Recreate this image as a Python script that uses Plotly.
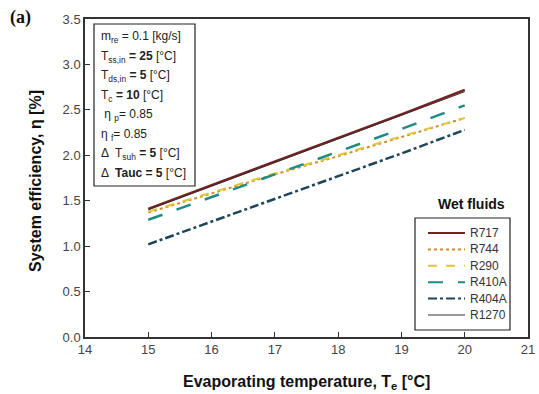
import plotly.graph_objects as go

T_evap = [15, 16, 17, 18, 19, 20]
fluids = ["R717", "R744", "R290", "R410A", "R404A", "R1270"]
R717 = [1.41, 1.67, 1.93, 2.19, 2.45, 2.72]
R744 = [1.37, 1.58, 1.79, 1.99, 2.20, 2.41]
R290 = [1.38, 1.59, 1.80, 2.00, 2.21, 2.41]
R410A = [1.29, 1.54, 1.79, 2.04, 2.29, 2.55]
R404A = [1.02, 1.27, 1.52, 1.77, 2.02, 2.28]
R1270 = [1.40, 1.66, 1.92, 2.18, 2.44, 2.70]
x_ticks = [14, 15, 16, 17, 18, 19, 20, 21]
y_ticks = [0.0, 0.5, 1.0, 1.5, 2.0, 2.5, 3.0, 3.5]

series = [R717, R744, R290, R410A, R404A, R1270]
styles = [
    dict(color="#7a1f1f", width=2.5, dash="solid"),
    dict(color="#d08a30", width=2, dash="dot"),
    dict(color="#e2c534", width=2, dash="dash"),
    dict(color="#1f8a86", width=2.5, dash="longdash"),
    dict(color="#1d4658", width=2.5, dash="dashdot"),
    dict(color="#333333", width=1, dash="solid"),
]

FONT = "Liberation Sans, Arial, sans-serif"
L, R, T, B, W, H = 85, 11, 19, 57, 539, 394
PW, PH = W - L - R, H - T - B


def px(xp):
    return (xp - L) / PW


def py(yp):
    return (H - B - yp) / PH


fig = go.Figure()
for name, ys, st in zip(fluids, series, styles):
    fig.add_trace(go.Scatter(x=T_evap, y=ys, mode="lines", name=name, line=st,
                             showlegend=False))

fig.update_layout(
    width=W, height=H,
    margin=dict(l=L, r=R, t=T, b=B, autoexpand=False),
    paper_bgcolor="white", plot_bgcolor="white",
    font=dict(family=FONT, size=13, color="#333333"),
    showlegend=False,
    xaxis=dict(
        range=[14, 21], tickvals=x_ticks, ticktext=[str(v) for v in x_ticks],
        showgrid=False, zeroline=False, showline=True, linecolor="#333333",
        linewidth=1.5, mirror=True, ticks="inside", ticklen=5, tickcolor="#333333",
        tickfont=dict(size=13, color="#444444"),
    ),
    yaxis=dict(
        range=[0, 3.5], tickvals=y_ticks, ticktext=[f"{v:.1f}" for v in y_ticks],
        showgrid=False, zeroline=False, showline=True, linecolor="#333333",
        linewidth=1.5, mirror=True, ticks="inside", ticklen=5, tickcolor="#333333",
        tickfont=dict(size=13, color="#444444"),
    ),
)

# axis titles
fig.add_annotation(xref="paper", yref="paper", x=px(306), y=py(382),
                   text="<b>Evaporating temperature, T<sub>e</sub> [°C]</b>",
                   showarrow=False, xanchor="center", yanchor="middle",
                   font=dict(size=16, color="#111111", family=FONT))
fig.add_annotation(xref="paper", yref="paper", x=px(35), y=py(181),
                   text="<b>System efficiency, η [%]</b>", textangle=-90,
                   showarrow=False, xanchor="center", yanchor="middle",
                   font=dict(size=16, color="#111111", family=FONT))

# parameter box
fig.add_shape(type="rect", xref="paper", yref="paper",
              x0=px(94), x1=px(195), y0=py(186), y1=py(24),
              line=dict(color="#222222", width=1.2), fillcolor="white")
param_lines = [
    "m<sub>re</sub> = 0.1 [kg/s]",
    "T<sub>ss,in</sub> <b>= 25</b> [°C]",
    "T<sub>ds,in</sub> <b>= 5</b> [°C]",
    "T<sub>c</sub> <b>= 10</b> [°C]",
    " η <sub>p</sub>= 0.85",
    "η <sub>f</sub>= 0.85",
    "Δ  T<sub>suh</sub> <b>= 5</b> [°C]",
    "Δ  <b>Tauc = 5</b> [°C]",
]
for i, txt in enumerate(param_lines):
    ypx = 37 + i * 19.5
    fig.add_annotation(xref="paper", yref="paper", x=px(99), y=py(ypx), text=txt,
                       showarrow=False, xanchor="left", yanchor="middle",
                       font=dict(size=12, color="#222222", family=FONT))

# custom legend
fig.add_annotation(xref="paper", yref="paper", x=px(471), y=py(204),
                   text="<b>Wet fluids</b>", showarrow=False, xanchor="center",
                   yanchor="middle", font=dict(size=14, color="#111111", family=FONT))
fig.add_shape(type="rect", xref="paper", yref="paper",
              x0=px(415), x1=px(510), y0=py(330), y1=py(218),
              line=dict(color="#222222", width=1.2), fillcolor="white")
for i, (name, st) in enumerate(zip(fluids, styles)):
    yy = 233 + i * 16.4
    fig.add_shape(type="line", xref="paper", yref="paper",
                  x0=px(428), x1=px(465), y0=py(yy), y1=py(yy),
                  line=dict(color=st["color"], width=min(st["width"], 2), dash=st["dash"]))
    fig.add_annotation(xref="paper", yref="paper", x=px(468), y=py(yy), text=name,
                       showarrow=False, xanchor="left", yanchor="middle",
                       font=dict(size=12, color="#333333", family=FONT))

fig.add_annotation(xref="paper", yref="paper", x=px(8), y=py(18),
                   text="<b>(a)</b>", showarrow=False, xanchor="left", yanchor="middle",
                   font=dict(size=18, color="#111111",
                             family="Liberation Serif, Times New Roman, serif"))

fig.write_html("out.html")
